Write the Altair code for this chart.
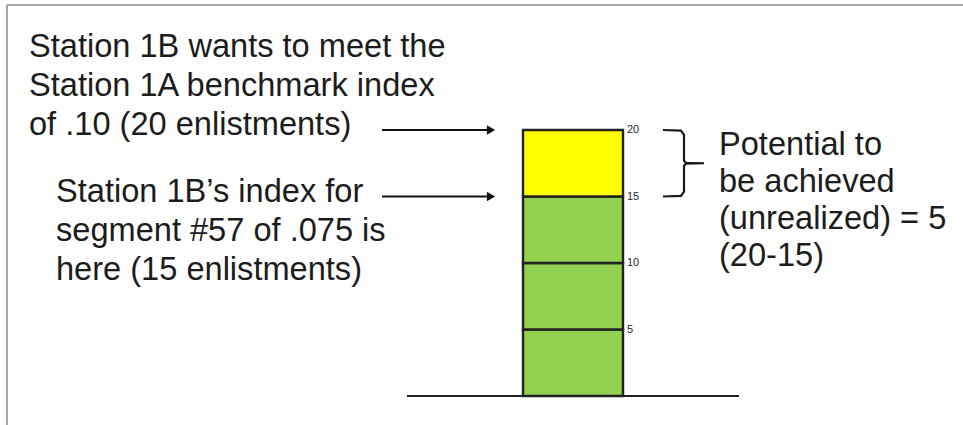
import altair as alt
import pandas as pd

# ---- values -------------------------------------------------------------
# stacked column: enlistment bands (green = achieved, yellow = unrealized)
seg_start = [0, 5, 10, 15]
seg_end = [5, 10, 15, 20]
seg_color = ["#92d050", "#92d050", "#92d050", "#ffff00"]

tick_values = [20, 15, 10, 5]
tick_labels = ["20", "15", "10", "5"]

benchmark = 20   # Station 1A benchmark (enlistments)
current = 15     # Station 1B current index (enlistments)

left_top_lines = [
    "Station 1B wants to meet the",
    "Station 1A benchmark index",
    "of .10 (20 enlistments)",
]
left_bottom_lines = [
    "Station 1B\u2019s index for",
    "segment #57 of .075 is",
    "here (15 enlistments)",
]
right_lines = [
    "Potential to",
    "be achieved",
    "(unrealized) = 5",
    "(20-15)",
]

# ---- layout -------------------------------------------------------------
W, H = 963, 425
ZERO_PX = 396            # pixel row of the ground line
PX_PER_UNIT = 13.3       # vertical pixels per enlistment
BAR_L, BAR_R = 523, 623
GROUND_L, GROUND_R = 407, 739
ARROW_L, ARROW_R = 382, 489
BRACE_X0, BRACE_X1, BRACE_TIP = 663, 684, 704
FONT = "Liberation Sans"
FS = 32.6
INK = "#1c1c1c"

lvl_domain = [-(H - ZERO_PX) / PX_PER_UNIT, ZERO_PX / PX_PER_UNIT]

xs = alt.Scale(domain=[0, W], nice=False, zero=False)
ys = alt.Scale(domain=lvl_domain, nice=False, zero=False)
pys = alt.Scale(domain=[0, H], nice=False, zero=False, reverse=True)


def X(field):
    return alt.X(field, type="quantitative", scale=xs, axis=None)


def Y(field):
    return alt.Y(field, type="quantitative", scale=ys, axis=None)


# ---- data tables --------------------------------------------------------
segs = pd.DataFrame({
    "y0": seg_start, "y1": seg_end, "fill": seg_color,
    "x0": BAR_L, "x1": BAR_R,
})
ticks = pd.DataFrame({"v": tick_values, "label": tick_labels, "x": BAR_R + 4})
ground = pd.DataFrame({"x0": [GROUND_L], "x1": [GROUND_R], "y": [0]})
arrows = pd.DataFrame({
    "y": [benchmark, current],
    "x0": ARROW_L, "x1": ARROW_R, "tip": ARROW_R + 2,
})

mid = (benchmark + current) / 2
r = 0.18  # corner rounding, in enlistment units
brace = pd.DataFrame({
    "x": [BRACE_X0, BRACE_X1 - 3, BRACE_X1, BRACE_X1, BRACE_X1 + 2, BRACE_TIP,
          BRACE_X1 + 2, BRACE_X1, BRACE_X1, BRACE_X1 - 3, BRACE_X0],
    "y": [benchmark, benchmark - 0.05, benchmark - r * 2, mid + r, mid + 0.03, mid,
          mid - 0.03, mid - r, current + r * 2, current + 0.05, current],
    "o": list(range(11)),
})


def block(lines, x, y_first, step):
    return pd.DataFrame({
        "text": lines,
        "x": x,
        "y": [y_first + i * step for i in range(len(lines))],
    })


texts = pd.concat([
    block(left_top_lines, 29, 47, 39),
    block(left_bottom_lines, 56, 192, 39),
    block(right_lines, 719, 145, 37),
])

# ---- marks --------------------------------------------------------------
frame_top = alt.Chart(pd.DataFrame({"a": [0]})).mark_rule(
    color="#a6a6a6", strokeWidth=2
).encode(x=alt.value(7), x2=alt.value(W), y=alt.value(5))
frame_left = alt.Chart(pd.DataFrame({"a": [0]})).mark_rule(
    color="#a6a6a6", strokeWidth=2
).encode(x=alt.value(7), y=alt.value(5), y2=alt.value(H))

column = alt.Chart(segs).mark_rect(stroke="#222222", strokeWidth=2.4).encode(
    x=X("x0"), x2="x1", y=Y("y0"), y2="y1",
    fill=alt.Fill("fill:N", scale=None),
)

ground_line = alt.Chart(ground).mark_rule(color="#222222", strokeWidth=2.2).encode(
    x=X("x0"), x2="x1", y=Y("y"),
)

tick_text = alt.Chart(ticks).mark_text(
    align="left", baseline="middle", fontSize=11, font=FONT, color="#262626"
).encode(x=X("x"), y=Y("v"), text="label:N")

arrow_shaft = alt.Chart(arrows).mark_rule(color="#111111", strokeWidth=1.8).encode(
    x=X("x0"), x2="x1", y=Y("y"),
)
arrow_head = alt.Chart(arrows).mark_point(
    shape="triangle-right", filled=True, size=90, color="#111111", opacity=1
).encode(x=X("tip"), y=Y("y"))

brace_line = alt.Chart(brace).mark_line(
    color="#1a1a1a", strokeWidth=2.2, interpolate="linear"
).encode(x=X("x"), y=Y("y"), order="o:Q")

labels = alt.Chart(texts).mark_text(
    align="left", baseline="middle", fontSize=FS, font=FONT, color=INK
).encode(
    x=X("x"),
    y=alt.Y("y:Q", scale=pys, axis=None),
    text="text:N",
)

chart = alt.layer(
    frame_top, frame_left, column, ground_line, tick_text,
    arrow_shaft, arrow_head, brace_line, labels,
).resolve_scale(y="independent").properties(
    width=W, height=H, padding=0, autosize=alt.AutoSizeParams(type="none"),
    background="white",
).configure_view(stroke=None)

chart.save("out.html", embed_options={"renderer": "svg", "actions": False})
